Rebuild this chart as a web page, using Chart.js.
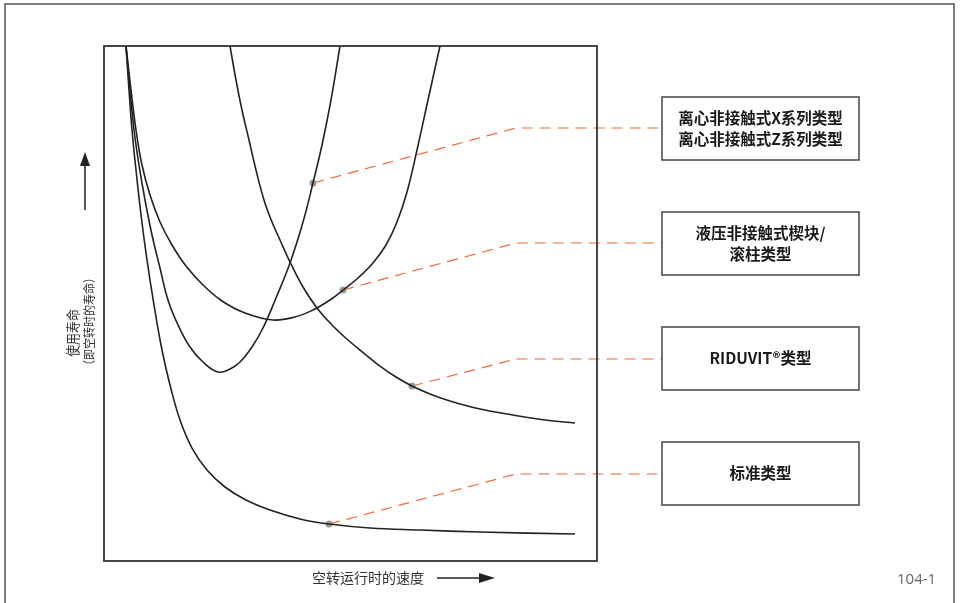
<!DOCTYPE html>
<html>
<head>
<meta charset="utf-8">
<script src="https://cdn.jsdelivr.net/npm/chart.js@4"></script>
<style>
body { margin: 0; background: #fff; }
</style>
</head>
<body>
<canvas id="lifeChart" width="962" height="603"></canvas>
<script>

// speed (x, 0-100) and service life (y, 0-100)
const standardSpeed = [4.46, 5.07, 5.68, 6.49, 7.51, 8.72, 10.14, 11.76, 13.39, 15.42, 17.85, 20.89, 24.54, 28.80, 33.67, 39.76, 45.64, 53.96, 64.10, 76.27, 95.54];
const standardLife  = [100, 91.46, 83.69, 75.92, 67.18, 58.45, 49.71, 40.97, 34.17, 27.38, 21.94, 17.67, 14.37, 11.84, 9.90, 8.16, 7.18, 6.41, 6.02, 5.63, 5.24];

const riduvitSpeed = [25.56, 26.77, 27.99, 29.41, 30.83, 32.45, 34.08, 35.70, 37.73, 40.37, 43.20, 46.25, 49.49, 52.94, 55.98, 59.23, 62.47, 66.13, 69.57, 76.27, 82.96, 89.45, 95.54];
const riduvitLife  = [100, 93.40, 87.57, 81.75, 75.92, 70.10, 65.83, 62.33, 58.06, 53.20, 49.13, 45.83, 42.91, 40.19, 37.86, 35.73, 33.98, 32.43, 31.26, 29.51, 28.35, 27.38, 26.80];

const hydraulicSpeed = [4.46, 5.48, 6.49, 7.71, 9.33, 11.36, 13.79, 16.63, 20.08, 23.94, 28.60, 34.28, 38.74, 42.39, 45.84, 48.48, 51.52, 54.56, 57.20, 59.43, 61.46, 63.49, 65.72, 68.15];
const hydraulicLife  = [100, 91.46, 83.69, 76.89, 71.07, 65.83, 61.36, 57.28, 53.59, 50.49, 48.16, 46.80, 47.38, 48.74, 50.68, 52.62, 54.95, 57.86, 61.36, 65.83, 71.65, 79.81, 89.51, 100];

const centrifugalSpeed = [4.46, 5.27, 6.09, 7.10, 8.32, 9.74, 11.36, 12.98, 15.01, 17.44, 20.08, 23.12, 25.56, 27.59, 30.02, 32.25, 34.89, 37.73, 40.37, 42.39, 44.22, 46.04, 47.87];
const centrifugalLife  = [100, 91.46, 83.69, 76.89, 70.10, 63.30, 56.89, 50.68, 45.83, 41.55, 38.64, 36.70, 37.28, 38.64, 41.55, 45.24, 51.07, 57.86, 65.83, 73.40, 80.78, 89.51, 100];

// marked points and their label boxes, top to bottom
const labelLines = [
  ['离心非接触式X系列类型', '离心非接触式Z系列类型'],
  ['液压非接触式楔块/', '滚柱类型'],
  ['RIDUVIT®类型'],
  ['标准类型']
];
const markSpeed = [42.39, 48.48, 62.47, 45.64];
const markLife  = [73.40, 52.62, 33.98, 7.18];

const xTitle = '空转运行时的速度';
const yTitle = ['使用寿命', '（即空转时的寿命）'];
const figureNo = '104-1';

function toPoints(xs, ys) {
  return xs.map((x, i) => ({ x: x, y: ys[i] }));
}

function curve(xs, ys) {
  return {
    data: toPoints(xs, ys),
    showLine: true,
    borderColor: '#222',
    borderWidth: 1.6,
    pointRadius: 0,
    tension: 0.4
  };
}

const cjk = '"Noto Sans CJK SC", "Noto Sans", sans-serif';

const boxTop = [97, 212, 327, 442];
const boxHeight = 63;
const boxLeft = 662;
const boxRight = 859;
const elbowX = 516;
const elbowY = [128, 243, 359, 474];

const drawingPlugin = {
  id: 'drawing',
  beforeDatasetsDraw(chart) {
    const ctx = chart.ctx;
    const xs = chart.scales.x;
    const ys = chart.scales.y;
    ctx.save();
    ctx.strokeStyle = '#f0683a';
    ctx.lineWidth = 1.2;
    ctx.setLineDash([11, 7]);
    markSpeed.forEach((s, i) => {
      ctx.beginPath();
      ctx.moveTo(xs.getPixelForValue(s), ys.getPixelForValue(markLife[i]));
      ctx.lineTo(elbowX, elbowY[i]);
      ctx.lineTo(boxLeft, elbowY[i]);
      ctx.stroke();
    });
    ctx.restore();
  },
  afterDraw(chart) {
    const ctx = chart.ctx;
    const a = chart.chartArea;
    ctx.save();

    // outer frame
    ctx.strokeStyle = '#555';
    ctx.lineWidth = 1.5;
    ctx.beginPath();
    ctx.moveTo(5, 603);
    ctx.lineTo(5, 4);
    ctx.lineTo(954, 4);
    ctx.lineTo(954, 603);
    ctx.stroke();

    // plot box
    ctx.strokeStyle = '#333';
    ctx.lineWidth = 1.8;
    ctx.strokeRect(a.left, a.top, a.right - a.left, a.bottom - a.top);

    // label boxes
    labelLines.forEach((lines, i) => {
      ctx.strokeStyle = '#444';
      ctx.lineWidth = 1.5;
      ctx.strokeRect(boxLeft, boxTop[i], boxRight - boxLeft, boxHeight);
      ctx.fillStyle = '#1a1a1a';
      ctx.font = 'bold 15.5px ' + cjk;
      ctx.textAlign = 'center';
      ctx.textBaseline = 'middle';
      const mid = boxTop[i] + boxHeight / 2;
      const gap = 21;
      lines.forEach((t, j) => {
        ctx.fillText(t, (boxLeft + boxRight) / 2, mid + (j - (lines.length - 1) / 2) * gap);
      });
    });

    // x title and arrow
    ctx.fillStyle = '#333';
    ctx.font = '14px ' + cjk;
    ctx.textAlign = 'left';
    ctx.textBaseline = 'middle';
    ctx.fillText(xTitle, 312, 578);
    ctx.strokeStyle = '#222';
    ctx.lineWidth = 1.5;
    ctx.beginPath();
    ctx.moveTo(437, 578);
    ctx.lineTo(482, 578);
    ctx.stroke();
    ctx.fillStyle = '#222';
    ctx.beginPath();
    ctx.moveTo(495, 578);
    ctx.lineTo(479, 573);
    ctx.lineTo(479, 583);
    ctx.closePath();
    ctx.fill();

    // y title (narrow glyphs) and arrow
    ctx.save();
    ctx.translate(73, 333);
    ctx.rotate(-Math.PI / 2);
    ctx.scale(0.88, 1);
    ctx.fillStyle = '#333';
    ctx.font = '13.5px ' + cjk;
    ctx.textAlign = 'center';
    ctx.textBaseline = 'middle';
    ctx.fillText(yTitle[0], 0, 0);
    ctx.font = '12.5px ' + cjk;
    ctx.fillText(yTitle[1], 13, 16);
    ctx.restore();
    ctx.strokeStyle = '#222';
    ctx.lineWidth = 1.5;
    ctx.beginPath();
    ctx.moveTo(85, 210);
    ctx.lineTo(85, 164);
    ctx.stroke();
    ctx.fillStyle = '#222';
    ctx.beginPath();
    ctx.moveTo(85, 152);
    ctx.lineTo(80, 166);
    ctx.lineTo(90, 166);
    ctx.closePath();
    ctx.fill();

    // figure number
    ctx.fillStyle = '#666';
    ctx.font = '15px "Open Sans", sans-serif';
    ctx.textAlign = 'left';
    ctx.fillText(figureNo, 897, 580);

    ctx.restore();
  }
};

new Chart(document.getElementById('lifeChart').getContext('2d'), {
  type: 'scatter',
  data: {
    datasets: [
      curve(standardSpeed, standardLife),
      curve(riduvitSpeed, riduvitLife),
      curve(hydraulicSpeed, hydraulicLife),
      curve(centrifugalSpeed, centrifugalLife),
      {
        data: toPoints(markSpeed, markLife),
        pointRadius: 3.5,
        pointBackgroundColor: '#9a9a9a',
        pointBorderWidth: 0,
        showLine: false
      }
    ]
  },
  options: {
    responsive: false,
    animation: false,
    layout: {
      padding: { left: 104, top: 46, right: 365, bottom: 42 }
    },
    scales: {
      x: { type: 'linear', min: 0, max: 100, display: false },
      y: { type: 'linear', min: 0, max: 100, display: false }
    },
    plugins: {
      legend: { display: false },
      tooltip: { enabled: false }
    }
  },
  plugins: [drawingPlugin]
});
</script>
</body>
</html>
